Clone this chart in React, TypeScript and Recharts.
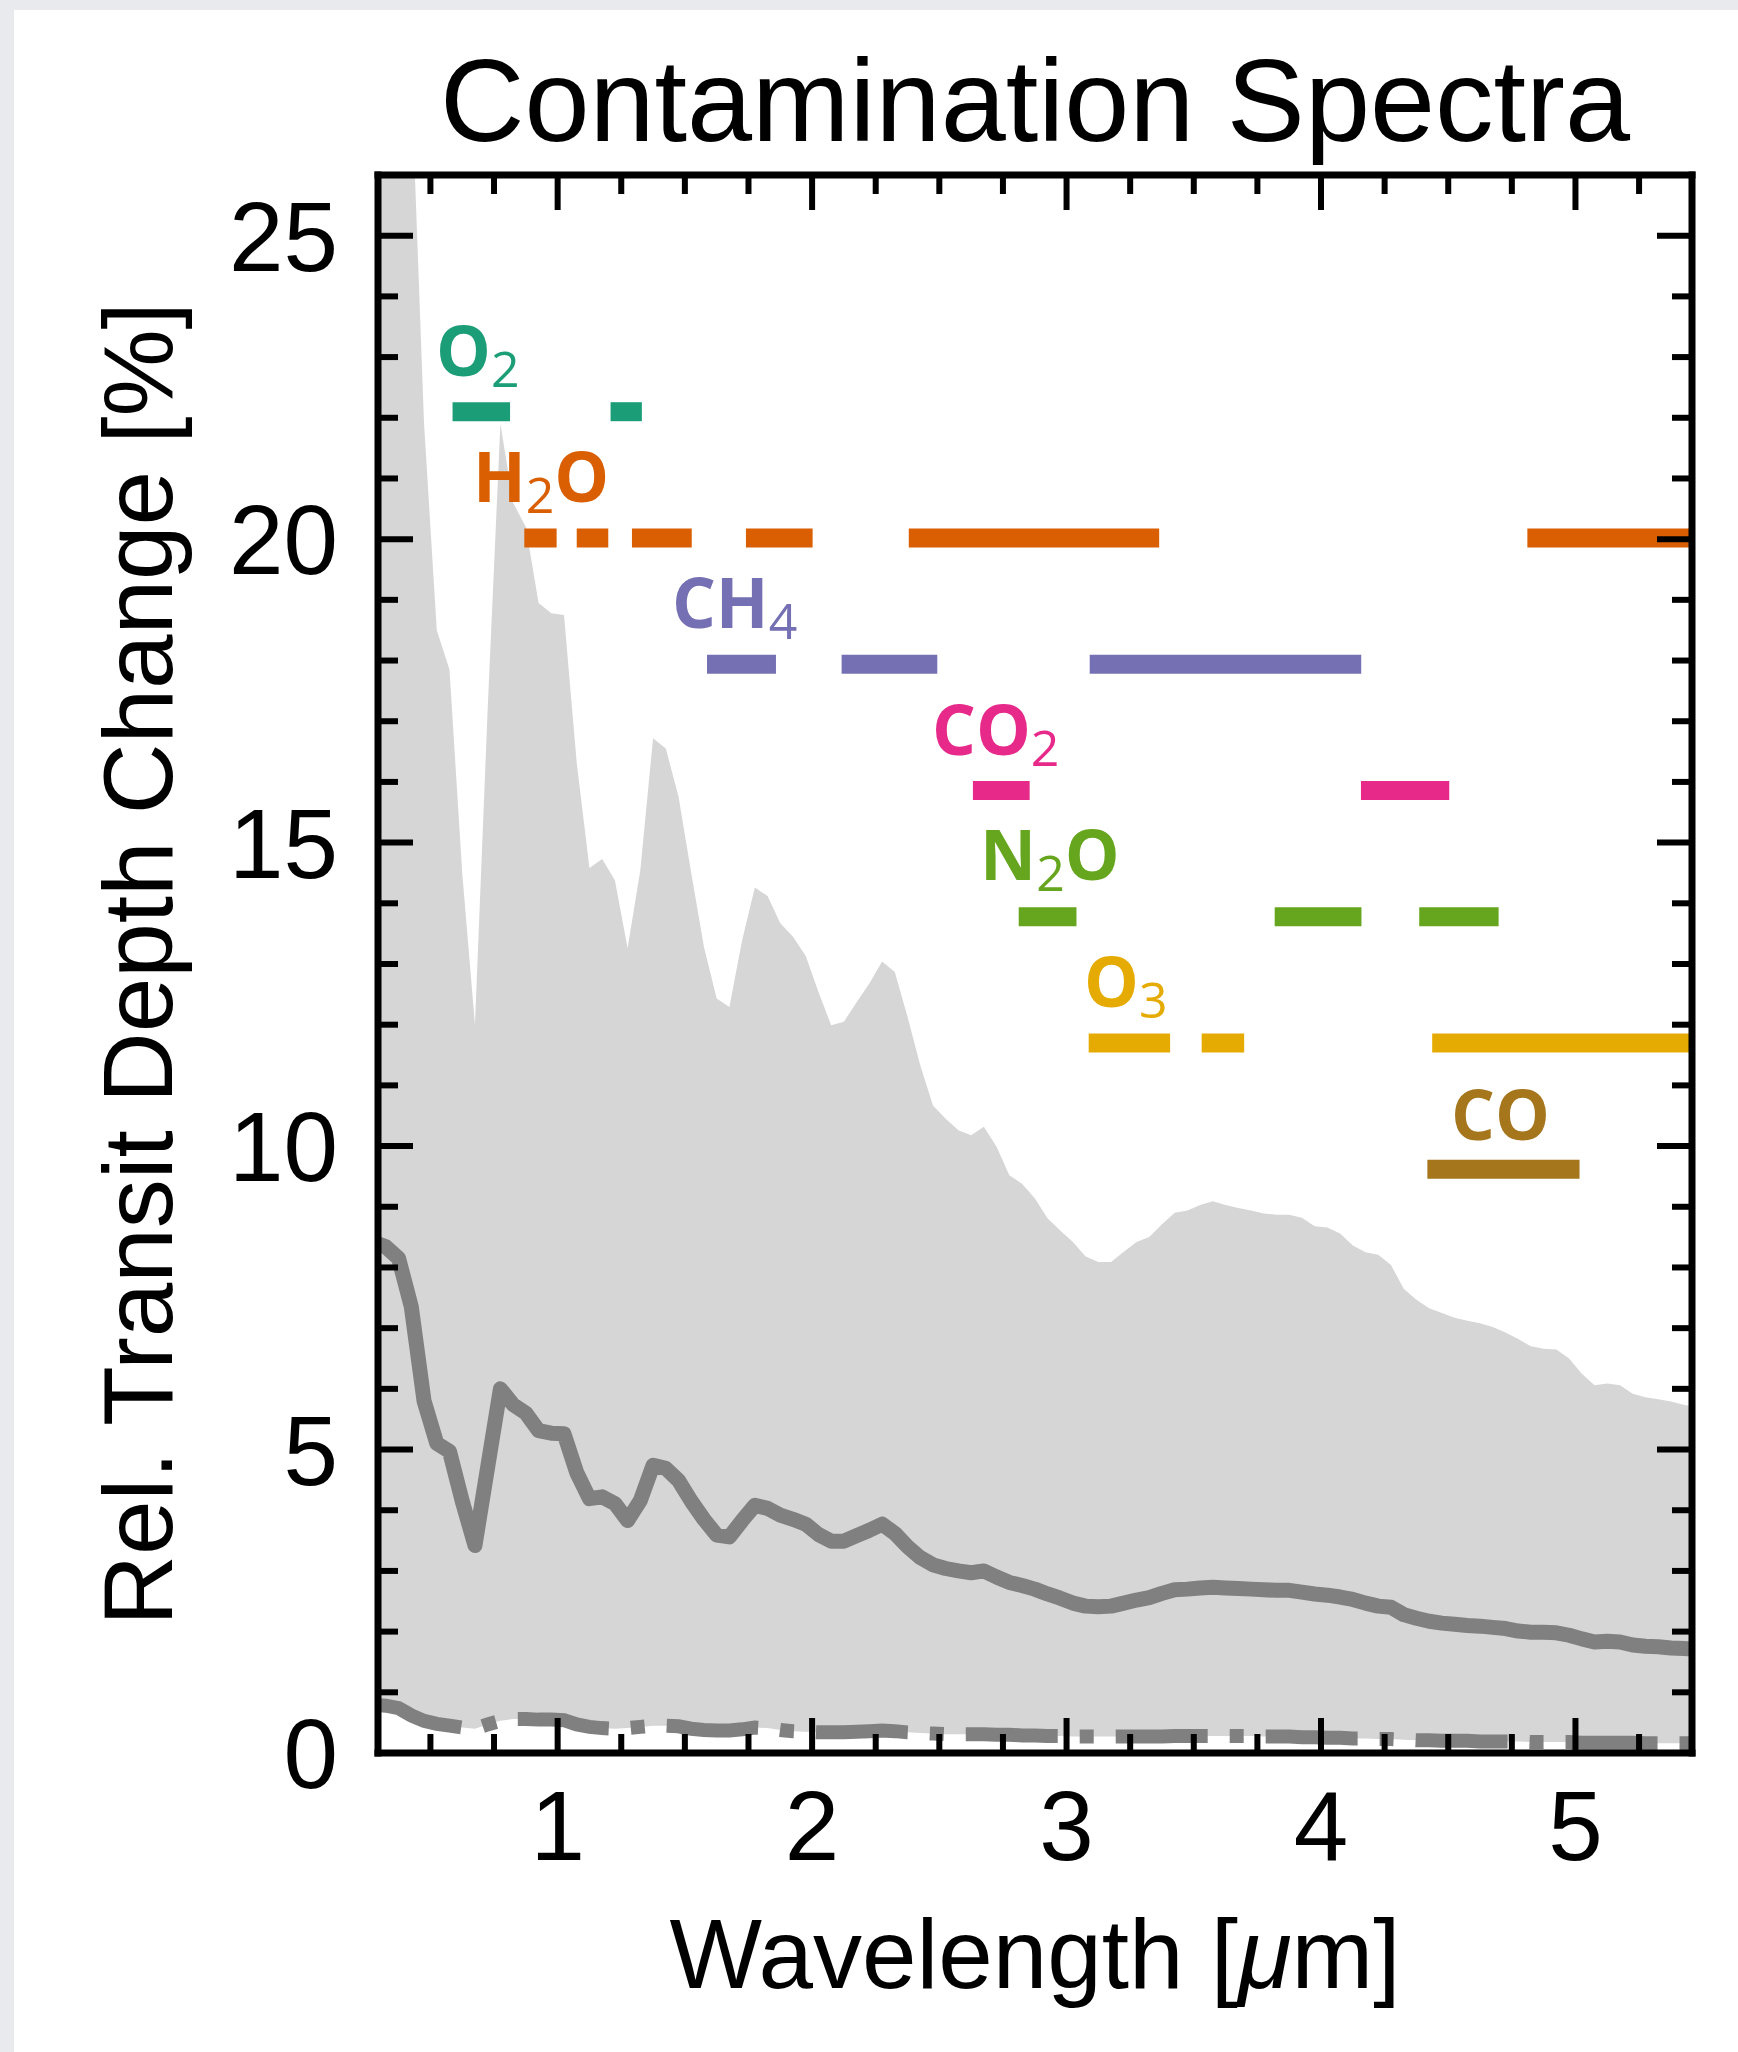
import { Area, ComposedChart, Label, Line, ReferenceLine, Scatter, XAxis, YAxis } from "recharts";

// wavelength grid [um] shared by the band and the two curves
const wavelength = [
  0.275, 0.325, 0.375, 0.425, 0.475, 0.525, 0.575, 0.625, 0.675, 0.725, 0.775, 0.825, 0.875, 0.925, 0.975,
  1.025, 1.075, 1.125, 1.175, 1.225, 1.275, 1.325, 1.375, 1.425, 1.475, 1.525, 1.575, 1.625, 1.675, 1.725,
  1.775, 1.825, 1.875, 1.925, 1.975, 2.025, 2.075, 2.125, 2.175, 2.225, 2.275, 2.325, 2.375, 2.425, 2.475,
  2.525, 2.575, 2.625, 2.675, 2.725, 2.775, 2.825, 2.875, 2.925, 2.975, 3.025, 3.075, 3.125, 3.175, 3.225,
  3.275, 3.325, 3.375, 3.425, 3.475, 3.525, 3.575, 3.625, 3.675, 3.725, 3.775, 3.825, 3.875, 3.925, 3.975,
  4.025, 4.075, 4.125, 4.175, 4.225, 4.275, 4.325, 4.375, 4.425, 4.475, 4.525, 4.575, 4.625, 4.675, 4.725,
  4.775, 4.825, 4.875, 4.925, 4.975, 5.025, 5.075, 5.125, 5.175, 5.225, 5.275, 5.325, 5.375, 5.425, 5.475,
];

// upper envelope of the grey band
const upper = [
  31.0, 30.2, 29.2, 27.6, 21.9, 18.5, 17.85, 14.5, 12.0, 17.2, 21.9, 20.6, 20.2, 18.95, 18.78,
  18.75, 16.31, 14.58, 14.73, 14.38, 13.26, 14.55, 16.72, 16.55, 15.76, 14.5, 13.28, 12.43, 12.29, 13.39,
  14.26, 14.12, 13.67, 13.45, 13.13, 12.54, 11.99, 12.05, 12.37, 12.68, 13.04, 12.87, 12.13, 11.33, 10.67,
  10.45, 10.26, 10.18, 10.32, 9.99, 9.52, 9.38, 9.14, 8.81, 8.61, 8.42, 8.18, 8.09, 8.09, 8.26,
  8.42, 8.5, 8.71, 8.9, 8.94, 9.03, 9.09, 9.03, 8.98, 8.94, 8.89, 8.87, 8.87, 8.82, 8.68,
  8.66, 8.56, 8.36, 8.25, 8.21, 8.04, 7.65, 7.47, 7.33, 7.25, 7.17, 7.12, 7.08, 7.02, 6.93,
  6.82, 6.7, 6.66, 6.65, 6.5, 6.25, 6.06, 6.09, 6.06, 5.92, 5.86, 5.83, 5.79, 5.74, 5.7,
];

// solid grey curve
const mean = [
  8.42, 8.34, 8.15, 7.35, 5.8, 5.1, 4.97, 4.15, 3.42, 4.71, 6.0, 5.74, 5.6, 5.31, 5.27,
  5.26, 4.62, 4.19, 4.22, 4.11, 3.83, 4.16, 4.74, 4.69, 4.49, 4.15, 3.85, 3.59, 3.56, 3.83,
  4.08, 4.03, 3.92, 3.85, 3.77, 3.6, 3.49, 3.49, 3.58, 3.67, 3.77, 3.62, 3.4, 3.22, 3.1,
  3.04, 3.0, 2.97, 3.0, 2.9, 2.81, 2.76, 2.7, 2.62, 2.55, 2.47, 2.42, 2.41, 2.42, 2.47,
  2.52, 2.56, 2.63, 2.69, 2.7, 2.72, 2.73, 2.72, 2.71, 2.7, 2.69, 2.68, 2.68, 2.65, 2.62,
  2.6, 2.57, 2.53, 2.47, 2.42, 2.4, 2.28, 2.22, 2.17, 2.14, 2.12, 2.1, 2.09, 2.07, 2.05,
  2.01, 1.99, 1.99, 1.98, 1.94, 1.88, 1.83, 1.84, 1.83, 1.78, 1.76, 1.75, 1.73, 1.72, 1.71,
];

// dash-dot curve, also the lower edge of the band
const lower = [
  0.8, 0.78, 0.74, 0.62, 0.53, 0.48, 0.45, 0.42, 0.4, 0.47, 0.53, 0.56, 0.56, 0.55, 0.55,
  0.54, 0.47, 0.43, 0.41, 0.4, 0.41, 0.43, 0.45, 0.45, 0.44, 0.4, 0.38, 0.37, 0.37, 0.39,
  0.42, 0.41, 0.38, 0.36, 0.35, 0.34, 0.34, 0.34, 0.35, 0.36, 0.37, 0.36, 0.34, 0.33, 0.32,
  0.31, 0.31, 0.31, 0.31, 0.3, 0.3, 0.29, 0.29, 0.28, 0.28, 0.27, 0.27, 0.27, 0.27, 0.27,
  0.27, 0.27, 0.27, 0.28, 0.28, 0.28, 0.28, 0.28, 0.28, 0.28, 0.27, 0.27, 0.27, 0.26, 0.26,
  0.25, 0.25, 0.24, 0.24, 0.23, 0.23, 0.22, 0.21, 0.21, 0.2, 0.2, 0.2, 0.19, 0.19, 0.19,
  0.19, 0.18, 0.18, 0.18, 0.18, 0.17, 0.17, 0.17, 0.17, 0.17, 0.16, 0.16, 0.16, 0.16, 0.16,
];

const xTicks = [
  0.5, 0.75, 1, 1.25, 1.5, 1.75, 2, 2.25, 2.5, 2.75, 3, 3.25, 3.5, 3.75, 4, 4.25, 4.5, 4.75, 5, 5.25,
];
const yTicks = [
  0, 1, 2, 3, 4, 5, 6, 7, 8, 9, 10, 11, 12, 13, 14, 15, 16, 17, 18, 19, 20, 21, 22, 23, 24, 25,
];

// absorbing species: label parts (main, subscript, tail), colour, level, bands
const speciesParts = [
  ["O", "2", ""],
  ["H", "2", "O"],
  ["CH", "4", ""],
  ["CO", "2", ""],
  ["N", "2", "O"],
  ["O", "3", ""],
  ["CO", "", ""],
];
const speciesColors = ["#1b9e77", "#d95f02", "#7570b3", "#e7298a", "#66a61e", "#e6ab02", "#a6761d"];
const speciesLevel = [22.1, 20.02, 17.94, 15.86, 13.78, 11.7, 9.62];
const speciesLabelX = [0.522, 0.667, 1.449, 2.471, 2.66, 3.069, 4.511];
const speciesLabelY = [22.68, 20.62, 18.53, 16.45, 14.38, 12.29, 10.1];
const speciesBands = [
  [[0.587, 0.813], [1.208, 1.331]],
  [[0.869, 0.996], [1.075, 1.199], [1.292, 1.527], [1.74, 2.002], [2.38, 3.364], [4.811, 5.458]],
  [[1.587, 1.858], [2.116, 2.492], [3.091, 4.158]],
  [[2.632, 2.855], [4.157, 4.504]],
  [[2.812, 3.039], [3.818, 4.159], [4.386, 4.698]],
  [[3.087, 3.407], [3.531, 3.698], [4.437, 5.458]],
  [[4.418, 5.016]],
];

const X_DOMAIN = [0.294, 5.458];
const Y_DOMAIN = [0, 26];
const SANS = "'Liberation Sans', Arial, sans-serif";
const FRAME = { stroke: "#000", strokeWidth: 7, strokeLinecap: "square" };

const bandData = wavelength.map((x, i) => ({ x, range: [lower[i], upper[i]] }));
const meanData = wavelength.map((x, i) => ({ x, y: mean[i] }));
const lowerData = wavelength.map((x, i) => ({ x, y: lower[i] }));
const labelData = speciesParts.map((parts, i) => ({
  x: speciesLabelX[i],
  y: speciesLabelY[i],
  parts,
  color: speciesColors[i],
}));

const isMajorX = (v: number) => Number.isInteger(v);
const isMajorY = (v: number) => v % 5 === 0;

function BottomTick({ x, y, payload }: any) {
  const major = isMajorX(payload.value);
  return (
    <g>
      <line x1={x} x2={x} y1={y} y2={y - (major ? 35 : 19)} stroke="#000" strokeWidth={6} />
      {major && (
        <text x={x} y={y + 107} textAnchor="middle" fontFamily={SANS} fontSize={98} fill="#000">
          {payload.value}
        </text>
      )}
    </g>
  );
}

function TopTick({ x, y, payload }: any) {
  const major = isMajorX(payload.value);
  return <line x1={x} x2={x} y1={y} y2={y + (major ? 35 : 19)} stroke="#000" strokeWidth={6} />;
}

function LeftTick({ x, y, payload }: any) {
  const major = isMajorY(payload.value);
  return (
    <g>
      <line x1={x} x2={x + (major ? 35 : 20)} y1={y} y2={y} stroke="#000" strokeWidth={6} />
      {major && (
        <text x={x - 40} y={y + 35} textAnchor="end" fontFamily={SANS} fontSize={98} fill="#000">
          {payload.value}
        </text>
      )}
    </g>
  );
}

function RightTick({ x, y, payload }: any) {
  const major = isMajorY(payload.value);
  return <line x1={x} x2={x - (major ? 35 : 20)} y1={y} y2={y} stroke="#000" strokeWidth={6} />;
}

function TitleLabel({ viewBox }: any) {
  const vb = viewBox || { x: 378, y: 174, width: 1314, height: 1 };
  return (
    <text
      x={vb.x + vb.width / 2}
      y={vb.y + vb.height - 34}
      textAnchor="middle"
      fontFamily={SANS}
      fontSize={117}
      fill="#000"
    >
      Contamination Spectra
    </text>
  );
}

function XTitle({ viewBox }: any) {
  const vb = viewBox || { x: 378, y: 1753, width: 1314 };
  return (
    <text x={vb.x + vb.width / 2} y={vb.y + 235} textAnchor="middle" fontFamily={SANS} fontSize={98} fill="#000">
      Wavelength [<tspan fontStyle="italic">μ</tspan>m]
    </text>
  );
}

function YTitle({ viewBox }: any) {
  const vb = viewBox || { x: 377, y: 175, width: 1, height: 1578 };
  const cx = vb.x + vb.width - 206;
  const cy = vb.y + vb.height / 2;
  return (
    <text
      x={cx}
      y={cy}
      transform={`rotate(-90 ${cx} ${cy})`}
      textAnchor="middle"
      fontFamily={SANS}
      fontSize={98}
      fill="#000"
    >
      Rel. Transit Depth Change [%]
    </text>
  );
}

function SpeciesLabel({ cx, cy, payload }: any) {
  const [main, sub, tail] = payload.parts;
  return (
    <text x={cx} y={cy} fill={payload.color} fontFamily="'Open Sans', sans-serif" fontWeight={700} fontSize={69}>
      {main}
      {sub && (
        <tspan fontWeight={400} fontSize={50} dy={11}>
          {sub}
        </tspan>
      )}
      {tail && <tspan dy={-11}>{tail}</tspan>}
    </text>
  );
}

export default function App() {
  return (
    <div style={{ position: "absolute", left: 0, top: 0, width: 1738, height: 2052, background: "#e8eaed" }}>
      <div style={{ position: "absolute", left: 14, top: 10, right: 0, bottom: 0, background: "#fff" }} />
      <div style={{ position: "absolute", left: 0, top: 0 }}>
        <ComposedChart
          width={1738}
          height={2052}
          data={bandData}
          margin={{ top: 174, right: 45, bottom: 298, left: 377 }}
        >
          <Area
            type="linear"
            dataKey="range"
            stroke="none"
            fill="#d6d6d6"
            fillOpacity={1}
            isAnimationActive={false}
          />
          <Line
            data={meanData}
            type="linear"
            dataKey="y"
            stroke="#808080"
            strokeWidth={15}
            strokeLinejoin="round"
            dot={false}
            activeDot={false}
            isAnimationActive={false}
          />
          <Line
            data={lowerData}
            type="linear"
            dataKey="y"
            stroke="#808080"
            strokeWidth={14}
            strokeDasharray="92 22 14 22"
            dot={false}
            activeDot={false}
            isAnimationActive={false}
          />
          {speciesBands.map((bands, i) =>
            bands.map(([a, b], j) => (
              <ReferenceLine
                key={`${i}-${j}`}
                segment={[
                  { x: a, y: speciesLevel[i] },
                  { x: b, y: speciesLevel[i] },
                ]}
                stroke={speciesColors[i]}
                strokeWidth={19}
              />
            ))
          )}
          <Scatter
            data={labelData}
            dataKey="y"
            shape={(p: any) => <SpeciesLabel {...p} />}
            isAnimationActive={false}
          />
          <XAxis
            dataKey="x"
            type="number"
            domain={X_DOMAIN}
            allowDataOverflow
            ticks={xTicks}
            interval={0}
            height={1}
            tickSize={0}
            tickMargin={0}
            tickLine={false}
            axisLine={FRAME}
            tick={<BottomTick />}
          >
            <Label content={<XTitle />} />
          </XAxis>
          <XAxis
            xAxisId="top"
            orientation="top"
            dataKey="x"
            type="number"
            domain={X_DOMAIN}
            allowDataOverflow
            ticks={xTicks}
            interval={0}
            height={1}
            tickSize={0}
            tickMargin={0}
            tickLine={false}
            axisLine={FRAME}
            tick={<TopTick />}
          >
            <Label content={<TitleLabel />} />
          </XAxis>
          <YAxis
            type="number"
            domain={Y_DOMAIN}
            allowDataOverflow
            ticks={yTicks}
            interval={0}
            width={1}
            tickSize={0}
            tickMargin={0}
            tickLine={false}
            axisLine={FRAME}
            tick={<LeftTick />}
          >
            <Label content={<YTitle />} />
          </YAxis>
          <YAxis
            yAxisId="right"
            orientation="right"
            type="number"
            domain={Y_DOMAIN}
            allowDataOverflow
            ticks={yTicks}
            interval={0}
            width={1}
            tickSize={0}
            tickMargin={0}
            tickLine={false}
            axisLine={FRAME}
            tick={<RightTick />}
          />
        </ComposedChart>
      </div>
    </div>
  );
}
